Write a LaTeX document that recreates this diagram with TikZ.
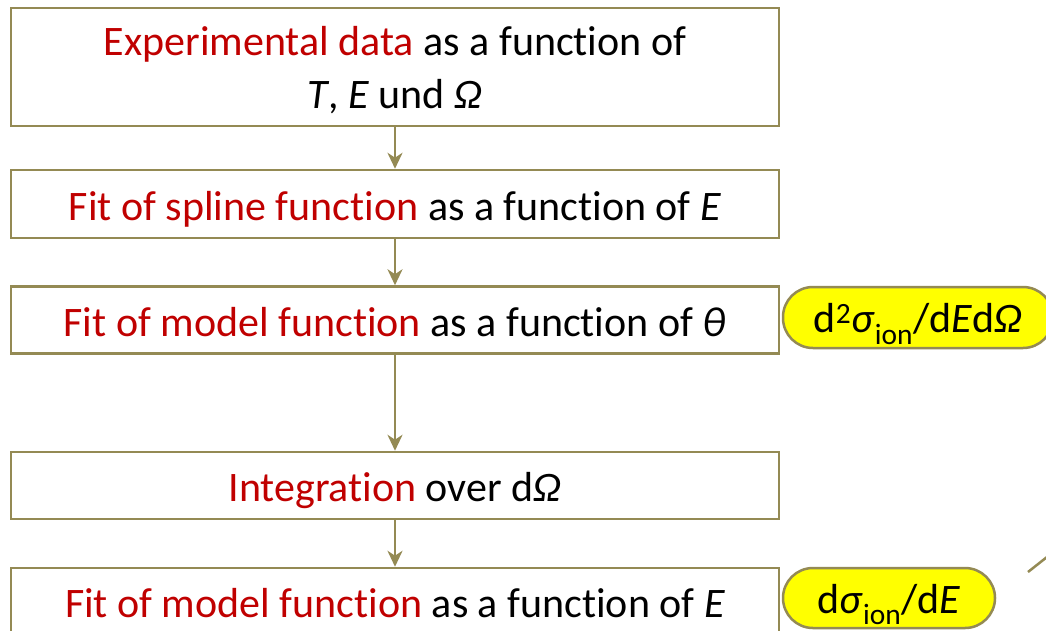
\documentclass[tikz,border=0pt]{standalone}
\usepackage{fontspec}
\setmainfont{Carlito}[RawFeature={-liga;-clig;-dlig}]
\usetikzlibrary{arrows.meta}
\definecolor{olivebd}{HTML}{948A54}
\definecolor{darkred}{HTML}{C00000}
\definecolor{yell}{HTML}{FFFF00}
\newcommand{\rt}[1]{\textcolor{darkred}{#1}}
\begin{document}
\begin{tikzpicture}[x=1pt,y=-1pt,
  box/.style={draw=olivebd, line width=2.5pt, minimum width=768pt, inner sep=0pt, align=center,
    font=\fontsize{42}{53}\selectfont, text height=38pt, text depth=6pt},
  txt/.style={inner sep=0pt, align=center, font=\fontsize{42}{53}\selectfont},
  pill/.style={draw=olivebd, line width=2.5pt, fill=yell, rounded corners=30pt, inner sep=0pt,
    font=\fontsize{42}{50}\selectfont, text height=36pt, text depth=6pt},
  conn/.style={draw=olivebd, line width=2.5pt, -{Stealth[length=16pt,width=15pt,inset=5pt]}},
  plain/.style={draw=olivebd, line width=2.5pt}]
\useasboundingbox (0,0) rectangle (1046,630);
\clip (0,0) rectangle (1046,630);
\fill[white] (0,0) rectangle (1046,630);
\node[box, minimum height=118pt, text height=0pt, text depth=0pt] (b1) at (395,67) {};
\node[txt] (t1) at (395,70) {\rt{Experimental data} as a function of\\\textit{T}, \textit{E} und \textit{Ω}};
\node[box, minimum height=68pt] (b2) at (395,204) {\rt{Fit of spline function} as a function of \textit{E}};
\node[box, minimum height=67pt] (b3) at (395,320) {\rt{Fit of model function} as a function of \textit{θ}};
\node[box, minimum height=67pt] (b4) at (395,485.5) {\rt{Integration} over d\textit{Ω}};
\node[box, minimum height=67pt] (b5) at (395,601.5) {\rt{Fit of model function} as a function of \textit{E}};
\node[pill, minimum width=270pt, minimum height=61pt] (e1) at (918,317.5) {d\textsuperscript{2}\textit{σ}\textsubscript{ion}/d\textit{E}d\textit{Ω}};
\node[pill, minimum width=212pt, minimum height=60pt] (e2) at (889,598) {d\textit{σ}\textsubscript{ion}/d\textit{E}};
\draw[conn] (b1) -- (b2);
\draw[conn] (b2) -- (b3);
\draw[conn] (b3) -- (b4);
\draw[conn] (b4) -- (b5);
\coordinate (l1) at (1028,572);
\coordinate (l2) at (1052,553);
\draw[plain] (l1) -- (l2);
\end{tikzpicture}
\end{document}
